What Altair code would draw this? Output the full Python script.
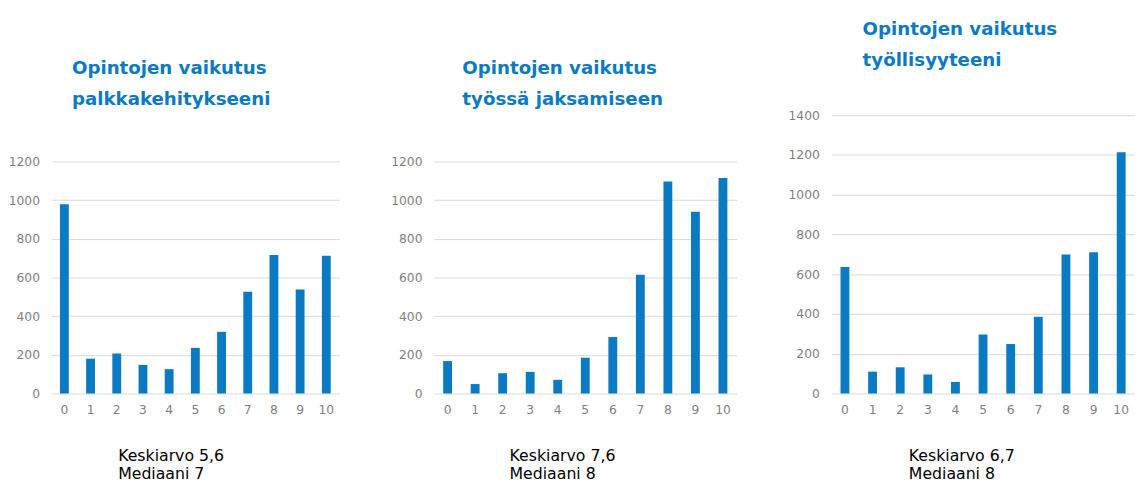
import altair as alt
import pandas as pd

scores = list(range(11))
palkka = [979, 180, 207, 148, 126, 236, 319, 526, 716, 538, 713]
jaksaminen = [168, 49, 105, 112, 71, 185, 292, 614, 1096, 940, 1115]
tyollisyys = [636, 110, 132, 96, 58, 297, 249, 386, 699, 711, 1214]

titles = [
    ["Opintojen vaikutus", "palkkakehitykseeni"],
    ["Opintojen vaikutus", "työssä jaksamiseen"],
    ["Opintojen vaikutus", "työllisyyteeni"],
]
footers = [
    ["Keskiarvo 5,6", "Mediaani 7"],
    ["Keskiarvo 7,6", "Mediaani 8"],
    ["Keskiarvo 6,7", "Mediaani 8"],
]
y_ticks = [
    [0, 200, 400, 600, 800, 1000, 1200],
    [0, 200, 400, 600, 800, 1000, 1200],
    [0, 200, 400, 600, 800, 1000, 1200, 1400],
]

BLUE = "#0a7bc2"
GRAY = "#7f7f7f"
H = 283


def text_layer(line, x, y, **kw):
    return alt.Chart(pd.DataFrame({"line": [line]})).mark_text(
        align="left", baseline="alphabetic", font="DejaVu Sans", **kw
    ).encode(text="line:N", x=alt.value(x), y=alt.value(y))


def panel(values, ticks, ymax, width, title, footer, tx, ty, fx):
    df = pd.DataFrame({"score": scores, "count": values})
    bars = alt.Chart(df).mark_bar(color=BLUE, width=9).encode(
        x=alt.X("score:O", title=None,
                scale=alt.Scale(paddingInner=0.1, paddingOuter=0.05),
                axis=alt.Axis(labelAngle=0, labelColor=GRAY, labelFontSize=12.5,
                              labelFont="DejaVu Sans", domain=False, ticks=False,
                              labelPadding=10, grid=False)),
        y=alt.Y("count:Q", title=None,
                scale=alt.Scale(domain=[0, ymax], nice=False),
                axis=alt.Axis(values=ticks, format="d", labelColor=GRAY,
                              labelFontSize=12.5, labelFont="DejaVu Sans",
                              domain=False, ticks=False, labelPadding=12,
                              gridColor="#d9d9d9", gridWidth=1)),
    )
    layers = [bars]
    for i, line in enumerate(title):
        layers.append(text_layer(line, tx, ty + 32 * i, fontWeight="bold",
                                 fontSize=18.5, color=BLUE))
    for i, line in enumerate(footer):
        layers.append(text_layer(line, fx, 352 + 18 * i, fontSize=16,
                                 color="#000000"))
    return alt.layer(*layers).properties(width=width, height=H)


p1 = panel(palkka, y_ticks[0], 1200 * H / 236, 293, titles[0], footers[0], 21, -42, 68)
p2 = panel(jaksaminen, y_ticks[1], 1200 * H / 236, 308, titles[1], footers[1], 29, -42, 77)
p3 = panel(tyollisyys, y_ticks[2], 1400, 309, titles[2], footers[2], 32, -82, 79)

chart = alt.hconcat(p1, p2, p3, spacing=52).properties(
    padding={"left": 0, "top": 8, "right": 0, "bottom": 0}
).configure_view(stroke=None)

chart.save("out.html", embed_options={"renderer": "svg", "actions": False})
